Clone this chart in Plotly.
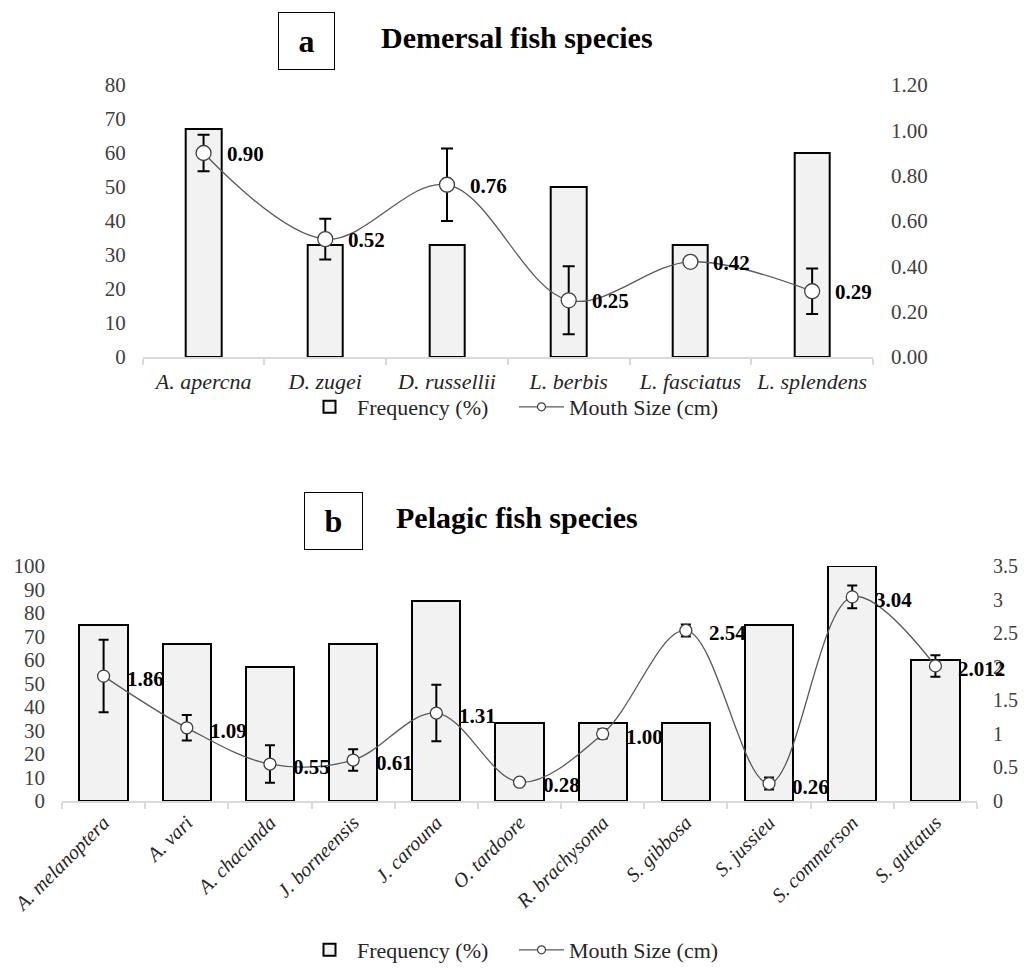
import plotly.graph_objects as go

# ---------------- data: panel a (demersal) ----------------
dem_species = ["A. apercna", "D. zugei", "D. russellii", "L. berbis", "L. fasciatus", "L. splendens"]
dem_freq = [67, 33, 33, 50, 33, 60]
dem_mouth = [0.90, 0.52, 0.76, 0.25, 0.42, 0.29]
dem_err = [0.08, 0.09, 0.16, 0.15, 0.0, 0.10]
dem_labels = ["0.90", "0.52", "0.76", "0.25", "0.42", "0.29"]

# ---------------- data: panel b (pelagic) ----------------
pel_species = ["A. melanoptera", "A. vari", "A. chacunda", "J. borneensis", "J. carouna",
               "O. tardoore", "R. brachysoma", "S. gibbosa", "S. jussieu", "S. commerson", "S. guttatus"]
pel_freq = [75, 67, 57, 67, 85, 33, 33, 33, 75, 100, 60]
pel_mouth = [1.86, 1.09, 0.55, 0.61, 1.31, 0.28, 1.00, 2.54, 0.26, 3.04, 2.012]
pel_err = [0.54, 0.19, 0.28, 0.16, 0.42, 0.0, 0.07, 0.09, 0.09, 0.17, 0.16]
pel_labels = ["1.86", "1.09", "0.55", "0.61", "1.31", "0.28", "1.00", "2.54", "0.26", "3.04", "2.012"]

left_ticks_a = list(range(0, 81, 10))
right_ticks_a = [0, 0.2, 0.4, 0.6, 0.8, 1.0, 1.2]
left_ticks_b = list(range(0, 101, 10))
right_ticks_b = [0, 0.5, 1, 1.5, 2, 2.5, 3, 3.5]

FONT = "Liberation Serif"
OFF = 8                          # page body margin
W, H = 1030 - 2 * OFF, 971 - OFF  # figure reaches the bottom of the window


def px(X):
    return (X - OFF) / W


def py(Y):
    return 1 - (Y - OFF) / H


fig = go.Figure()

bar_style = dict(color="#f2f2f2", line=dict(color="black", width=2))
line_style = dict(color="#5a5a5a", width=1.3, shape="spline", smoothing=1.0)
legend_marker = dict(symbol="circle", size=8, color="white",
                     line=dict(color="#404040", width=1.2))

for xa, ya, ya2, cats, freq, mouth, err, bw, msize, cap, leg in [
    ("x", "y", "y2", dem_species, dem_freq, dem_mouth, dem_err, 0.29, 15, 6, "legend"),
    ("x2", "y3", "y4", pel_species, pel_freq, pel_mouth, pel_err, 0.58, 12, 5, "legend2"),
]:
    fig.add_trace(go.Bar(x=cats, y=freq, width=bw, marker=bar_style,
                         name="Frequency (%)", xaxis=xa, yaxis=ya, legend=leg))
    fig.add_trace(go.Scatter(x=cats, y=mouth, mode="lines+markers", line=line_style,
                             marker=dict(symbol="circle", size=msize, color="white",
                                         line=dict(color="#404040", width=1.3)),
                             error_y=dict(type="data", array=err, color="black",
                                          thickness=2, width=cap),
                             name="Mouth Size (cm)", showlegend=False,
                             xaxis=xa, yaxis=ya2))
    # legend entry with a small marker (no data)
    fig.add_trace(go.Scatter(x=[None], y=[None], mode="lines+markers",
                             line=dict(color="#5a5a5a", width=1.3), marker=legend_marker,
                             name="Mouth Size (cm)", xaxis=xa, yaxis=ya2, legend=leg))

tickfont_num = dict(family=FONT, size=21, color="#404040")

xaxis_common = dict(type="category", showline=True, linecolor="#d9d9d9", linewidth=2,
                    ticks="outside", tickson="boundaries", ticklen=6, tickcolor="#d9d9d9",
                    tickwidth=1.5, showgrid=False, zeroline=False, automargin=False)
yaxis_common = dict(showgrid=False, zeroline=False, showline=False, ticks="",
                    automargin=False)

annotations = []
for s, v, t in zip(dem_species, dem_mouth, dem_labels):
    annotations.append(dict(x=s, y=v, xref="x", yref="y2", text="<b>" + t + "</b>",
                            showarrow=False, xanchor="left", yanchor="middle",
                            xshift=21, yshift=-1,
                            font=dict(family=FONT, size=21, color="black")))
for s, v, t in zip(pel_species, pel_mouth, pel_labels):
    annotations.append(dict(x=s, y=v, xref="x2", yref="y4", text="<b>" + t + "</b>",
                            showarrow=False, xanchor="left", yanchor="middle",
                            xshift=21, yshift=-3,
                            font=dict(family=FONT, size=21, color="black")))

# panel titles
annotations += [
    dict(x=px(306), y=py(41), xref="paper", yref="paper", text="<b>a</b>",
         showarrow=False, xanchor="center", yanchor="middle", width=55, height=56,
         bordercolor="black", borderwidth=1, borderpad=0,
         font=dict(family=FONT, size=32, color="black")),
    dict(x=px(379), y=py(37), xref="paper", yref="paper",
         text="<b>Demersal fish species</b>", showarrow=False, xanchor="left",
         yanchor="middle", font=dict(family=FONT, size=30, color="black")),
    dict(x=px(333.5), y=py(520.5), xref="paper", yref="paper", text="<b>b</b>",
         showarrow=False, xanchor="center", yanchor="middle", width=57, height=56,
         bordercolor="black", borderwidth=1, borderpad=0,
         font=dict(family=FONT, size=32, color="black")),
    dict(x=px(394), y=py(517), xref="paper", yref="paper",
         text="<b>Pelagic fish species</b>", showarrow=False, xanchor="left",
         yanchor="middle", font=dict(family=FONT, size=30, color="black")),
]

legend_common = dict(orientation="h", xanchor="center",
                     font=dict(family=FONT, size=22, color="#262626"),
                     bgcolor="rgba(0,0,0,0)", traceorder="normal", itemwidth=45,
                     entrywidth=152, entrywidthmode="pixels")

fig.update_layout(
    width=W, height=H, autosize=False,
    margin=dict(l=0, r=0, t=0, b=0, pad=0),
    paper_bgcolor="white", plot_bgcolor="white",
    bargap=0,
    font=dict(family=FONT),
    xaxis=dict(**xaxis_common, domain=[px(142.7), px(873)], anchor="y", tickangle=0,
               range=[-0.5, len(dem_species) - 0.5], ticklabelstandoff=4,
               tickfont=dict(family=FONT, size=22, color="#262626", style="italic")),
    yaxis=dict(**yaxis_common, domain=[py(357), py(85)], range=[0, 80],
               tickvals=left_ticks_a, anchor="x", ticklabelstandoff=16,
               tickfont=tickfont_num),
    yaxis2=dict(**yaxis_common, range=[0, 1.2], tickvals=right_ticks_a,
                tickformat=".2f", overlaying="y", side="right", anchor="x",
                ticklabelstandoff=17, tickfont=tickfont_num),
    xaxis2=dict(**xaxis_common, domain=[px(62), px(977)], anchor="y3", tickangle=-45,
                range=[-0.5, len(pel_species) - 0.5],
                tickfont=dict(family=FONT, size=20, color="#262626", style="italic")),
    yaxis3=dict(**yaxis_common, domain=[py(801), py(566)], range=[0, 100],
                tickvals=left_ticks_b, anchor="x2", ticklabelstandoff=16,
                tickfont=tickfont_num),
    yaxis4=dict(**yaxis_common, range=[0, 3.5], tickvals=right_ticks_b,
                overlaying="y3", side="right", anchor="x2", ticklabelstandoff=15,
                tickfont=dict(family=FONT, size=20, color="#404040")),
    legend=dict(**legend_common, x=px(514), y=py(407), yanchor="middle"),
    legend2=dict(**legend_common, x=px(514), y=0, yanchor="bottom"),
    annotations=annotations,
    showlegend=True,
)

fig.write_html("out.html")
